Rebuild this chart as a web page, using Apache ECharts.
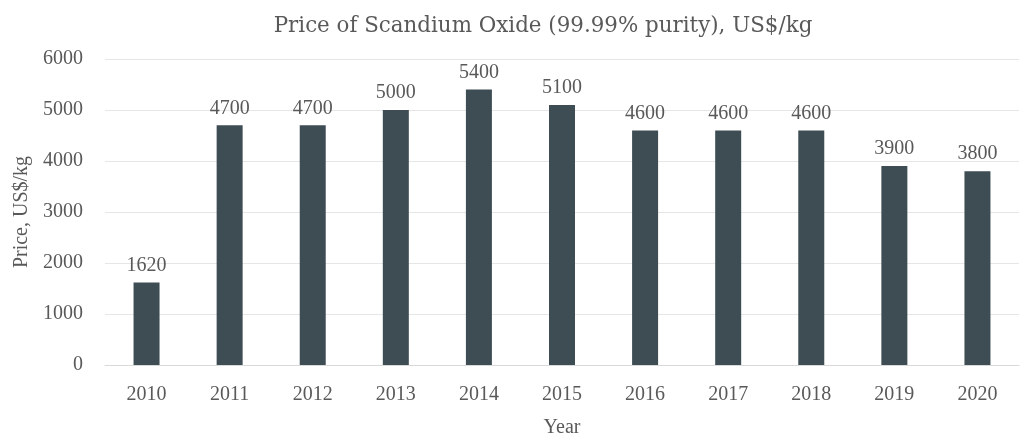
<!DOCTYPE html>
<html>
<head>
<meta charset="utf-8">
<script src="https://cdn.jsdelivr.net/npm/echarts@6/dist/echarts.min.js"></script>
<style>
html,body{margin:0;padding:0;background:#fff;}
#c{width:1023px;height:437px;}
</style>
</head>
<body>
<div id="c"></div>
<script>
const years = ['2010','2011','2012','2013','2014','2015','2016','2017','2018','2019','2020'];
const prices = [1620, 4700, 4700, 5000, 5400, 5100, 4600, 4600, 4600, 3900, 3800];
const yTicks = {min: 0, max: 6000, interval: 1000};

const FONT = '"Liberation Serif", "DejaVu Serif", serif';
const TFONT = '"DejaVu Serif", "Liberation Serif", serif';
const TXT = '#595959';

const chart = echarts.init(document.getElementById('c'));
chart.setOption({
  animation: false,
  backgroundColor: '#ffffff',
  title: {
    text: 'Price of Scandium Oxide (99.99% purity), US$/kg',
    left: 538,
    textAlign: 'center',
    top: 11,
    textStyle: {fontFamily: TFONT, fontSize: 21.4, fontWeight: 'normal', color: TXT}
  },
  grid: {left: 105, right: 4, top: 59, bottom: 72, containLabel: false, outerBoundsMode: 'none'},
  xAxis: {
    type: 'category',
    data: years,
    name: 'Year',
    nameLocation: 'middle',
    nameGap: 53,
    nameTextStyle: {fontFamily: FONT, fontSize: 20, color: TXT},
    axisLine: {lineStyle: {color: '#d9d9d9', width: 1}},
    axisTick: {show: false},
    axisLabel: {fontFamily: FONT, fontSize: 20, color: TXT, margin: 20}
  },
  yAxis: {
    type: 'value',
    min: yTicks.min,
    max: yTicks.max,
    interval: yTicks.interval,
    name: 'Price, US$/kg',
    nameLocation: 'middle',
    nameGap: 57,
    nameTextStyle: {fontFamily: FONT, fontSize: 20, color: TXT},
    axisLine: {show: false},
    axisTick: {show: false},
    axisLabel: {fontFamily: FONT, fontSize: 20, color: TXT, margin: 22, formatter: v => String(v)},
    splitLine: {lineStyle: {color: '#e6e6e6', width: 1}}
  },
  series: [{
    type: 'bar',
    data: prices,
    barWidth: 26,
    itemStyle: {color: '#3e4d54'},
    label: {
      show: true,
      position: 'top',
      distance: 7,
      fontFamily: FONT,
      fontSize: 20,
      color: TXT
    }
  }]
});
</script>
</body>
</html>
